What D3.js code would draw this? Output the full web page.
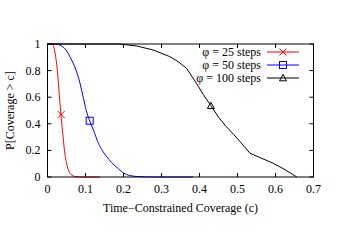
<!DOCTYPE html>
<html><head><meta charset="utf-8">
<script src="https://cdn.jsdelivr.net/npm/d3@7"></script>
<style>body{margin:0;background:#fff}</style>
</head><body><svg id="c" width="350" height="245" font-family="'Liberation Serif', 'DejaVu Serif', serif" font-size="12"></svg>
<script>
const xTicks=[0,0.1,0.2,0.3,0.4,0.5,0.6,0.7];
const yTicks=[0,0.2,0.4,0.6,0.8,1];
const seriesNames=["φ = 25 steps","φ = 50 steps","φ = 100 steps"];
const seriesColors=["#ff0000","#0000ff","#000000"];
const red_x=[0,0.01,0.015,0.02,0.026,0.031,0.036,0.041,0.046,0.051,0.056,0.062,0.068,0.075,0.085,0.1,0.138];
const red_y=[1,1,0.99,0.93,0.8,0.62,0.45,0.3,0.17,0.09,0.045,0.02,0.008,0.002,0,0,0];
const blue_x=[0,0.02,0.03,0.04,0.05,0.06,0.07,0.078,0.086,0.094,0.102,0.11,0.121,0.134,0.145,0.156,0.168,0.182,0.2,0.215,0.24,0.28,0.383];
const blue_y=[1,1,0.995,0.98,0.95,0.9,0.84,0.78,0.7,0.6,0.5,0.43,0.353,0.253,0.195,0.153,0.11,0.074,0.03,0.012,0.003,0,0];
const black_x=[0,0.1,0.15,0.19,0.235,0.278,0.322,0.345,0.366,0.393,0.41,0.43,0.45,0.47,0.49,0.507,0.533,0.56,0.594,0.625,0.656];
const black_y=[1,1,1,1,0.985,0.955,0.905,0.865,0.817,0.70,0.62,0.536,0.45,0.38,0.32,0.265,0.178,0.145,0.103,0.055,0];
const markers=[[0.036,0.47],[0.111,0.423],[0.43,0.536]];

const svg=d3.select("#c");
const L=47.5,R=313.5,T=44,B=177;
const x=d3.scaleLinear().domain([0,0.7]).range([L,R]);
const y=d3.scaleLinear().domain([0,1]).range([B,T]);
const tl=4;
const g=svg.append("g");
xTicks.forEach(t=>{
  g.append("line").attr("x1",x(t)).attr("x2",x(t)).attr("y1",B).attr("y2",B-tl).attr("stroke","#000");
  g.append("line").attr("x1",x(t)).attr("x2",x(t)).attr("y1",T).attr("y2",T+tl).attr("stroke","#000");
  g.append("text").attr("x",x(t)).attr("y",B+16).attr("text-anchor","middle").text(t===0?"0":d3.format(".1f")(t));
});
yTicks.forEach(t=>{
  g.append("line").attr("x1",L).attr("x2",L+tl).attr("y1",y(t)).attr("y2",y(t)).attr("stroke","#000");
  g.append("line").attr("x1",R).attr("x2",R-tl).attr("y1",y(t)).attr("y2",y(t)).attr("stroke","#000");
  g.append("text").attr("x",L-7).attr("y",y(t)+4).attr("text-anchor","end").text(t===0||t===1?String(t):d3.format(".1f")(t));
});
const line=d3.line().x(d=>x(d[0])).y(d=>y(d[1]));
const data=[d3.zip(red_x,red_y),d3.zip(blue_x,blue_y),d3.zip(black_x,black_y)];
const curves=[d3.curveMonotoneX,d3.curveMonotoneX,d3.curveLinear];
data.forEach((d,i)=>{
  svg.append("path").attr("d",line.curve(curves[i])(d)).attr("fill","none").attr("stroke",seriesColors[i]).attr("stroke-width",1);
});
function marker(i,cx,cy){
  const s=3.5;
  if(i===0){
    svg.append("path").attr("d",`M${cx-s},${cy-s}L${cx+s},${cy+s}M${cx-s},${cy+s}L${cx+s},${cy-s}`).attr("stroke",seriesColors[i]).attr("fill","none");
  }else if(i===1){
    svg.append("rect").attr("x",cx-s).attr("y",cy-s).attr("width",2*s).attr("height",2*s).attr("stroke",seriesColors[i]).attr("fill","none");
  }else{
    svg.append("path").attr("d",`M${cx},${cy-s}L${cx+s},${cy+s*0.8}L${cx-s},${cy+s*0.8}Z`).attr("stroke",seriesColors[i]).attr("fill","none");
  }
}
markers.forEach((m,i)=>marker(i,x(m[0]),y(m[1])));
svg.append("rect").attr("x",L).attr("y",T).attr("width",R-L).attr("height",B-T).attr("fill","none").attr("stroke","#000");
const ly=[52,65,78];
seriesNames.forEach((n,i)=>{
  svg.append("text").attr("x",261).attr("y",ly[i]+4).attr("text-anchor","end").text(n);
  svg.append("line").attr("x1",267).attr("x2",299).attr("y1",ly[i]).attr("y2",ly[i]).attr("stroke",seriesColors[i]);
  marker(i,283,ly[i]);
});
svg.append("text").attr("x",(L+R)/2).attr("y",212).attr("text-anchor","middle").text("Time−Constrained Coverage (c)");
svg.append("text").attr("transform",`translate(14,${(T+B)/2}) rotate(-90)`).attr("text-anchor","middle").text("P[Coverage > c]");
</script></body></html>
